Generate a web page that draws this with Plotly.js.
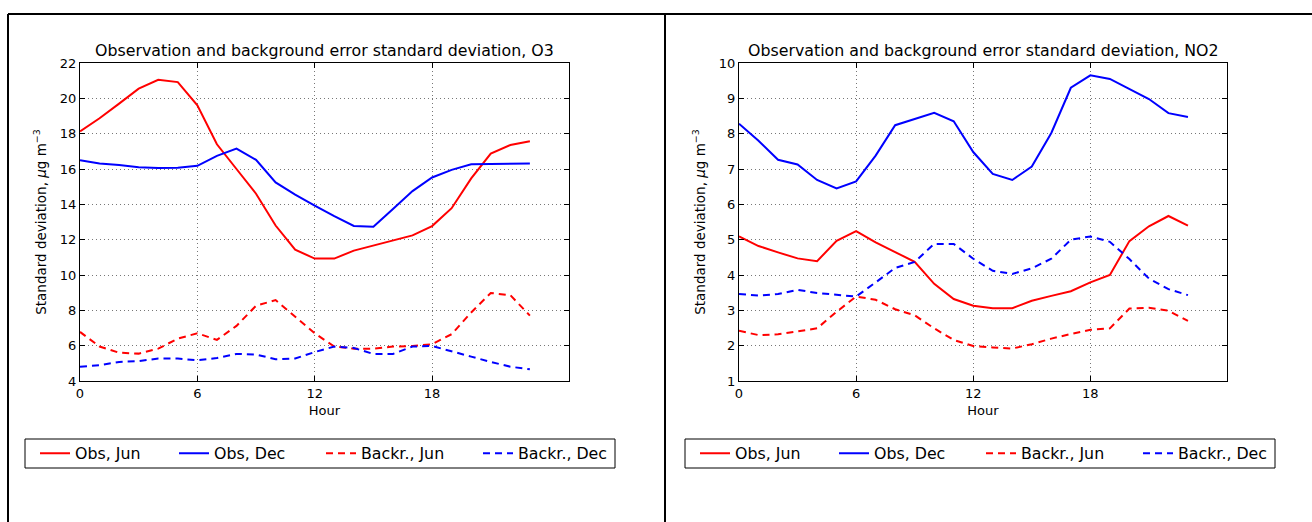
<!DOCTYPE html>
<html>
<head>
<meta charset="utf-8">
<script src="https://cdn.plot.ly/plotly-3.0.1.min.js"></script>
<style>html,body{margin:0;padding:0;background:#fff;}#chart{width:1312px;height:522px;}</style>
</head>
<body>
<div id="chart"></div>
<script>
const hours = [0,1,2,3,4,5,6,7,8,9,10,11,12,13,14,15,16,17,18,19,20,21,22,23];
const seriesNames = ["Obs, Jun", "Obs, Dec", "Backr., Jun", "Backr., Dec"];
const panelTitles = ["Observation and background error standard deviation, O3",
                     "Observation and background error standard deviation, NO2"];
const xTickVals = [0, 6, 12, 18];

// O3
const o3ObsJun = [18.13,18.87,19.7,20.55,21.05,20.92,19.6,17.4,16.0,14.6,12.8,11.43,10.93,10.93,11.38,11.68,11.94,12.24,12.77,13.78,15.47,16.87,17.36,17.57];
const o3ObsDec = [16.5,16.31,16.22,16.1,16.05,16.07,16.18,16.74,17.16,16.52,15.24,14.55,13.93,13.33,12.78,12.73,13.74,14.75,15.52,15.95,16.27,16.27,16.27,16.31];
const o3BgJun = [6.78,5.95,5.6,5.55,5.83,6.4,6.7,6.33,7.12,8.26,8.58,7.65,6.7,5.95,5.83,5.83,5.95,5.98,6.08,6.65,7.88,8.98,8.86,7.7];
const o3BgDec = [4.81,4.89,5.08,5.13,5.27,5.27,5.17,5.3,5.53,5.5,5.23,5.27,5.64,5.95,5.87,5.53,5.53,5.95,5.98,5.7,5.38,5.08,4.81,4.66];

// NO2
const no2ObsJun = [5.09,4.82,4.64,4.47,4.39,4.97,5.24,4.92,4.65,4.37,3.75,3.32,3.13,3.06,3.06,3.27,3.41,3.54,3.79,4.0,4.96,5.38,5.67,5.4];
const no2ObsDec = [8.28,7.8,7.26,7.13,6.69,6.45,6.65,7.38,8.24,8.42,8.59,8.35,7.48,6.86,6.69,7.07,8.02,9.3,9.65,9.55,9.27,8.98,8.58,8.47];
const no2BgJun = [2.42,2.3,2.32,2.4,2.49,2.96,3.39,3.3,3.03,2.86,2.49,2.16,1.99,1.95,1.92,2.04,2.2,2.33,2.45,2.49,3.05,3.07,2.99,2.7];
const no2BgDec = [3.46,3.42,3.46,3.58,3.49,3.43,3.39,3.79,4.2,4.37,4.88,4.88,4.46,4.12,4.03,4.19,4.46,5.0,5.09,4.94,4.45,3.9,3.6,3.43];

const W = 1312, H = 522;
const FONT = "DejaVu Sans";
const RED = "#ff0000", BLUE = "#0000ff";
const DASH = "7px,5px";
const styles = [
  {color: RED, dash: "solid"},
  {color: BLUE, dash: "solid"},
  {color: RED, dash: DASH},
  {color: BLUE, dash: DASH}
];

// each legend entry gets its own legend so entries sit where the reference places them
const legendIds = ["legend", "legend2", "legend3", "legend4", "legend5", "legend6", "legend7", "legend8"];
const legendLeftX = [35, 174, 321, 478];   // px, left panel
const panelShift = 660;                    // px offset of right panel legend

function mk(y, i, xa, ya, leg) {
  return {
    x: hours, y: y, type: "scatter", mode: "lines", name: seriesNames[i],
    xaxis: xa, yaxis: ya, legend: leg,
    line: {color: styles[i].color, dash: styles[i].dash, width: 2},
    hoverinfo: "x+y"
  };
}

const data = [
  mk(o3ObsJun, 0, "x", "y", legendIds[0]),
  mk(o3ObsDec, 1, "x", "y", legendIds[1]),
  mk(o3BgJun, 2, "x", "y", legendIds[2]),
  mk(o3BgDec, 3, "x", "y", legendIds[3]),
  mk(no2ObsJun, 0, "x2", "y2", legendIds[4]),
  mk(no2ObsDec, 1, "x2", "y2", legendIds[5]),
  mk(no2BgJun, 2, "x2", "y2", legendIds[6]),
  mk(no2BgDec, 3, "x2", "y2", legendIds[7])
];

const yDom = [1 - 381 / H, 1 - 63 / H];
const leftDom = [80 / W, 569 / W];
const rightDom = [739 / W, 1227 / W];

function xax(dom, anchor) {
  return {
    domain: dom, anchor: anchor, range: [0, 25], tickvals: xTickVals,
    ticks: "inside", ticklen: 5, tickcolor: "#000", showline: true, linecolor: "#000", linewidth: 1,
    mirror: "ticks", showgrid: true, gridcolor: "#777", griddash: "1px,3px", gridwidth: 1,
    zeroline: false, tickfont: {family: FONT, size: 13, color: "#000"},
    title: {text: "Hour", font: {family: FONT, size: 13, color: "#000"}, standoff: 6},
    automargin: false
  };
}
function yax(dom, anchor, range, dtick) {
  return {
    domain: dom, anchor: anchor, range: range, dtick: dtick, tick0: 0,
    ticks: "inside", ticklen: 5, tickcolor: "#000", showline: true, linecolor: "#000", linewidth: 1,
    mirror: "ticks", showgrid: true, gridcolor: "#777", griddash: "1px,3px", gridwidth: 1,
    zeroline: false, tickfont: {family: FONT, size: 13, color: "#000"},
    title: {text: "Standard deviation, <i>μ</i>g m<sup>−3</sup>", font: {family: FONT, size: 13.5, color: "#000"}, standoff: 10},
    automargin: false
  };
}

function legendCfg(px) {
  return {
    orientation: "h", x: px / W, y: 1 - 453.5 / H, xanchor: "left", yanchor: "middle",
    xref: "paper", yref: "paper",
    bgcolor: "rgba(0,0,0,0)", borderwidth: 0,
    font: {family: FONT, size: 15.8, color: "#000"}
  };
}

const layout = {
  width: W, height: H, autosize: false,
  margin: {l: 0, r: 0, t: 0, b: 0, pad: 0},
  paper_bgcolor: "#fff", plot_bgcolor: "#fff",
  font: {family: FONT, size: 13, color: "#000"},
  showlegend: true,
  xaxis: xax(leftDom, "y"),
  yaxis: yax(yDom, "x", [4, 22], 2),
  xaxis2: xax(rightDom, "y2"),
  yaxis2: yax(yDom, "x2", [1, 10], 1),
  annotations: [
    {text: panelTitles[0], xref: "paper", yref: "paper", x: (leftDom[0] + leftDom[1]) / 2, y: 1 - 62 / H,
     xanchor: "center", yanchor: "bottom", showarrow: false, font: {family: FONT, size: 15.8, color: "#000"}},
    {text: panelTitles[1], xref: "paper", yref: "paper", x: (rightDom[0] + rightDom[1]) / 2, y: 1 - 62 / H,
     xanchor: "center", yanchor: "bottom", showarrow: false, font: {family: FONT, size: 15.8, color: "#000"}}
  ],
  shapes: [
    {type: "line", xref: "paper", yref: "paper", x0: 8 / W, x1: 1, y0: 1 - 14 / H, y1: 1 - 14 / H, line: {color: "#000", width: 2}},
    {type: "line", xref: "paper", yref: "paper", x0: 8 / W, x1: 8 / W, y0: 0, y1: 1 - 14 / H, line: {color: "#000", width: 2}},
    {type: "line", xref: "paper", yref: "paper", x0: 665 / W, x1: 665 / W, y0: 0, y1: 1 - 14 / H, line: {color: "#000", width: 2}},
    {type: "rect", xref: "paper", yref: "paper", x0: 25 / W, x1: 615 / W, y0: 1 - 468 / H, y1: 1 - 439 / H, line: {color: "#000", width: 1}, layer: "below"},
    {type: "rect", xref: "paper", yref: "paper", x0: (25 + panelShift) / W, x1: (615 + panelShift) / W, y0: 1 - 468 / H, y1: 1 - 439 / H, line: {color: "#000", width: 1}, layer: "below"}
  ]
};

for (let k = 0; k < 8; k++) {
  const px = legendLeftX[k % 4] + (k >= 4 ? panelShift : 0);
  layout[legendIds[k]] = legendCfg(px);
}

Plotly.newPlot("chart", data, layout, {displayModeBar: false, staticPlot: true});
</script>
</body>
</html>
